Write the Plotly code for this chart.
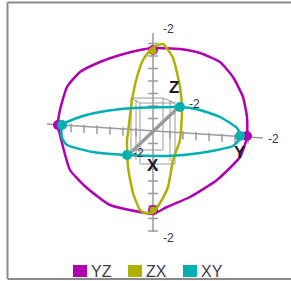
import numpy as np
import plotly.graph_objects as go

# ---- data (chart units, origin at sphere centre) ----
yz_u = [0.00, 0.54, 0.94, 1.34, 1.60, 1.80, 1.88, 1.88, 1.74, 1.28, 0.74, 0.28, 0.00,
        -0.26, -0.86, -1.32, -1.66, -1.82, -1.90, -1.86, -1.72, -1.46, -1.06, -0.66, -0.26, 0.00]
yz_v = [1.66, 1.64, 1.56, 1.38, 1.08, 0.68, 0.28, -0.12, -0.52, -0.98, -1.32, -1.52, -1.66,
        -1.62, -1.48, -1.14, -0.78, -0.24, 0.12, 0.42, 0.88, 1.18, 1.38, 1.52, 1.62, 1.66]
yz_mu = [0.00, 0.00, -1.90, 1.88]
yz_mv = [1.62, -1.58, 0.12, -0.10]

zx_u = [0.20, 0.40, 0.54, 0.58, 0.54, 0.40, 0.30, 0.14, 0.00, -0.16, -0.26, -0.40,
        -0.50, -0.52, -0.50, -0.42, -0.32, -0.20, -0.02, 0.20]
zx_v = [1.74, 1.46, 0.88, 0.42, -0.18, -0.58, -1.12, -1.44, -1.64, -1.64, -1.58, -1.24,
        -0.72, -0.18, -0.04, 0.62, 1.08, 1.42, 1.66, 1.74]
zx_mu = [0.00, 0.00]
zx_mv = [1.60, -1.58]

xy_u = [-1.82, -1.52, -1.06, -0.40, 0.54, 0.94, 1.34, 1.68, 1.76, 1.60, 0.94, 0.28,
        -0.52, -1.20, -1.72, -1.82, -1.82]
xy_v = [0.12, 0.26, 0.38, 0.46, 0.48, 0.42, 0.28, 0.06, -0.12, -0.30, -0.44, -0.50,
        -0.48, -0.42, -0.28, -0.14, 0.12]
xy_mu = [0.54, -0.52, -1.82, 1.74]
xy_mv = [0.48, -0.48, 0.12, -0.10]

# axes of the 3D frame
z_axis_u = [0.0, 0.0]
z_axis_v = [1.96, -2.02]
z_ticks = [-2.0, -1.75, -1.5, -1.25, -1.0, -0.75, -0.5, -0.25, 0.25, 0.5, 0.75, 1.0, 1.25, 1.5, 1.75]
y_axis_u = [-2.12, 2.20]
y_axis_v = [0.14, -0.14]
y_ticks = [-1.9, -1.64, -1.38, -1.12, -0.86, -0.60, -0.34, 0.34, 0.60, 0.86, 1.12, 1.38, 1.64, 1.90]
x_axis_u = [-0.56, 0.60]
x_axis_v = [-0.54, 0.56]

# inner wire box
box_u = [-0.44, 0.20, 0.20, -0.44, -0.44, None, -0.26, 0.44, 0.44, -0.26, -0.26, None,
         -0.34, -0.34, None, 0.34, 0.34, None, -0.44, -0.26, None, 0.20, 0.44]
box_v = [0.66, 0.66, -0.38, -0.38, 0.66, None, 0.56, 0.56, -0.66, -0.66, 0.56, None,
         0.62, -0.58, None, 0.62, -0.60, None, 0.66, 0.56, None, 0.66, 0.56]

labels = ["-2", "-2", "-2", "-2", "-2"]
label_u = [0.30, 0.30, 2.40, 0.82, -0.30]
label_v = [2.04, -2.14, -0.16, 0.54, -0.44]
axis_names = ["Z", "Y", "X"]
axis_name_u = [0.42, 1.74, 0.00]
axis_name_v = [0.88, -0.42, -0.68]

series = ["YZ", "ZX", "XY"]
colors = ["#B000B0", "#B0B000", "#00B0B0"]
marker_sizes = [10, 7, 10]

GREY = "#9a9a9a"
fig = go.Figure()

# frame axes
fig.add_trace(go.Scatter(x=box_u, y=box_v, mode="lines", line=dict(color=GREY, width=1),
                         hoverinfo="skip"))
fig.add_trace(go.Scatter(x=z_axis_u, y=z_axis_v, mode="lines", line=dict(color=GREY, width=1.5),
                         hoverinfo="skip"))
fig.add_trace(go.Scatter(x=[0.0] * len(z_ticks), y=z_ticks, mode="markers",
                         marker=dict(symbol="line-ew", size=7, line=dict(color=GREY, width=1.5)),
                         hoverinfo="skip"))
fig.add_trace(go.Scatter(x=y_axis_u, y=y_axis_v, mode="lines", line=dict(color=GREY, width=1.5),
                         hoverinfo="skip"))
yt_v = np.interp(y_ticks, y_axis_u, y_axis_v) - 0.05
fig.add_trace(go.Scatter(x=y_ticks, y=yt_v, mode="markers",
                         marker=dict(symbol="line-ns", size=6, line=dict(color=GREY, width=1.5)),
                         hoverinfo="skip"))
fig.add_trace(go.Scatter(x=x_axis_u, y=x_axis_v, mode="lines", line=dict(color=GREY, width=3.5),
                         hoverinfo="skip"))

# circles
for name, cu, cv, mu, mv, col, ms in [
    ("YZ", yz_u, yz_v, yz_mu, yz_mv, colors[0], marker_sizes[0]),
    ("ZX", zx_u, zx_v, zx_mu, zx_mv, colors[1], marker_sizes[1]),
    ("XY", xy_u, xy_v, xy_mu, xy_mv, colors[2], marker_sizes[2]),
]:
    fig.add_trace(go.Scatter(x=cu, y=cv, mode="lines", name=name,
                             line=dict(color=col, width=2.5, shape="spline", smoothing=0.5)))
    fig.add_trace(go.Scatter(x=mu, y=mv, mode="markers", name=name,
                             marker=dict(color=col, size=ms)))

ann = []
for t, u, v in zip(labels, label_u, label_v):
    ann.append(dict(x=u, y=v, text=t, showarrow=False, xref="x", yref="y",
                    font=dict(family="Liberation Sans, Arial", size=12, color="#333344")))
for t, u, v in zip(axis_names, axis_name_u, axis_name_v):
    ann.append(dict(x=u, y=v, text="<b>" + t + "</b>", showarrow=False, xref="x", yref="y",
                    font=dict(family="Liberation Sans, Arial", size=17, color="#1a1a2a")))

# legend drawn as swatches + text
W, H = 291, 281
shapes = []
leg_x = [73, 128, 183]
for i, (name, col) in enumerate(zip(series, colors)):
    x0 = leg_x[i]
    shapes.append(dict(type="rect", xref="paper", yref="paper",
                       x0=x0 / W, x1=(x0 + 14) / W, y0=1 - 277 / H, y1=1 - 265 / H,
                       fillcolor=col, line=dict(width=0)))
    ann.append(dict(x=(x0 + 16) / W, y=1 - 271 / H, xref="paper", yref="paper",
                    text=name, showarrow=False, xanchor="left", yanchor="middle",
                    font=dict(family="Liberation Sans, Arial", size=16, color="#3a3a4a")))

# outer frame
for (x0, y0, x1, y1) in [(7.5, 2.5, 7.5, 279), (7.5, 2.5, 291, 2.5), (7.5, 279, 291, 279)]:
    shapes.append(dict(type="line", xref="paper", yref="paper",
                       x0=x0 / W, x1=x1 / W, y0=1 - y0 / H, y1=1 - y1 / H,
                       line=dict(color="#8a8a8a", width=2)))

fig.update_layout(
    width=W, height=H, margin=dict(l=0, r=0, t=0, b=0),
    paper_bgcolor="white", plot_bgcolor="white", showlegend=False,
    xaxis=dict(range=[-3.06, 2.76], visible=False, fixedrange=True),
    yaxis=dict(range=[-3.0, 2.62], visible=False, fixedrange=True),
    annotations=ann, shapes=shapes,
)
fig.write_html("out.html", config={"displayModeBar": False},
               post_script="document.body.style.margin='0';document.body.style.overflow='hidden';")
